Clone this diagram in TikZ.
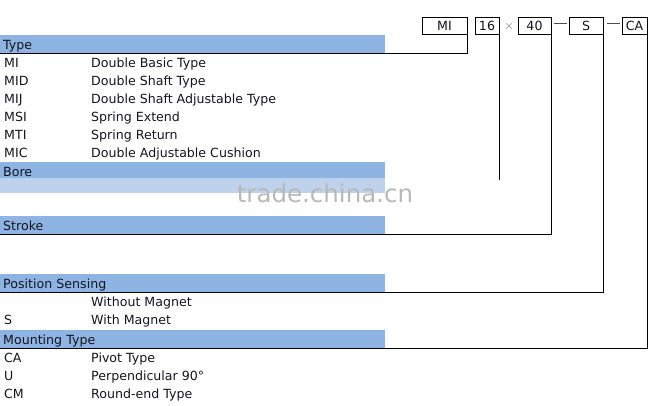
\documentclass[tikz,border=0pt]{standalone}
\usepackage{fontspec}
\setmainfont{DejaVu Sans}
\usetikzlibrary{positioning}
\definecolor{barblue}{RGB}{141,180,226}
\definecolor{bandblue}{RGB}{190,210,236}
\definecolor{inkdark}{RGB}{20,20,30}

\begin{document}
\begin{tikzpicture}[x=1pt, y=-1pt, node distance=8pt, font=\fontsize{12.6}{14}\selectfont, text=inkdark]
  \tikzset{
    codebox/.style={draw, line width=1pt, fill=white, minimum height=17pt, inner sep=0pt},
    bar/.style={fill=barblue, anchor=north west, minimum width=385pt, minimum height=18pt,
                inner xsep=3pt, inner ysep=0pt, text width=379pt, align=left,
                text height=14pt, text depth=4pt},
    code/.style={anchor=base west, inner sep=0pt},
    desc/.style={anchor=base west, inner sep=0pt},
    link/.style={draw, line width=1.2pt}
  }
  \useasboundingbox (0,0) rectangle (651,405);

  % model code
  \node[codebox, minimum width=45pt] (mi)  at (444.5,25.5) {MI};
  \node[codebox, minimum width=24pt] (b16) at (487,25.5)   {16};
  \node[text=black!60] (times) at (509,26) {$\times$};
  \node[codebox, minimum width=33pt] (b40) at (534.5,25.5) {40};
  \node (dashA) at (560,25) {\color{black!70}\rule[0.45ex]{13pt}{0.9pt}};
  \node[codebox, minimum width=34pt] (bs)  at (586,25.5)   {S};
  \node (dashB) at (613,25) {\color{black!70}\rule[0.45ex]{13pt}{0.9pt}};
  \node[codebox, minimum width=25pt] (bca) at (634.5,25.5) {CA};

  % section headers
  \node[bar] (typebar)  at (0,35)  {Type};
  \node[bar] (borebar)  at (0,162) {Bore};
  \fill[bandblue] (0,178) rectangle (385,193);
  \node[bar] (strokebar) at (0,216) {Stroke};
  \node[bar] (posbar)   at (0,274) {Position Sensing};
  \node[bar] (mountbar) at (0,330) {Mounting Type};

  % type
  \node[code] (c1) at (4,67.5)  {MI};   \node[desc] (d1) at (91,67.5)  {Double Basic Type};
  \node[code] (c2) at (4,85.5)  {MID};  \node[desc] (d2) at (91,85.5)  {Double Shaft Type};
  \node[code] (c3) at (4,103.5) {MIJ};  \node[desc] (d3) at (91,103.5) {Double Shaft Adjustable Type};
  \node[code] (c4) at (4,121.5) {MSI};  \node[desc] (d4) at (91,121.5) {Spring Extend};
  \node[code] (c5) at (4,139.5) {MTI};  \node[desc] (d5) at (91,139.5) {Spring Return};
  \node[code] (c6) at (4,157.5) {MIC};  \node[desc] (d6) at (91,157.5) {Double Adjustable Cushion};

  % position sensing
  \node[desc] (p1) at (91,306.5) {Without Magnet};
  \node[code] (s2) at (4,324.5)  {S};   \node[desc] (p2) at (91,324.5) {With Magnet};

  % mounting
  \node[code] (m1) at (4,362.5) {CA};   \node[desc] (n1) at (91,362.5) {Pivot Type};
  \node[code] (m2) at (4,380.5) {U};    \node[desc] (n2) at (91,380.5) {Perpendicular 90°};
  \node[code] (m3) at (4,398.5) {CM};   \node[desc] (n3) at (91,398.5) {Round-end Type};

  \node[text=black!28, font=\fontsize{24.5}{26}\selectfont] (mark) at (325,193) {trade.china.cn};

  % leader lines
  \path[link]
    (mi.south east)  |- (typebar.south west)
    (b16.south east) -- (b16.south east |- borebar.south)
    (b40.south east) |- (strokebar.south west)
    (bs.south east)  |- (posbar.south west)
    (bca.south east) |- (mountbar.south west);
\end{tikzpicture}
\end{document}
